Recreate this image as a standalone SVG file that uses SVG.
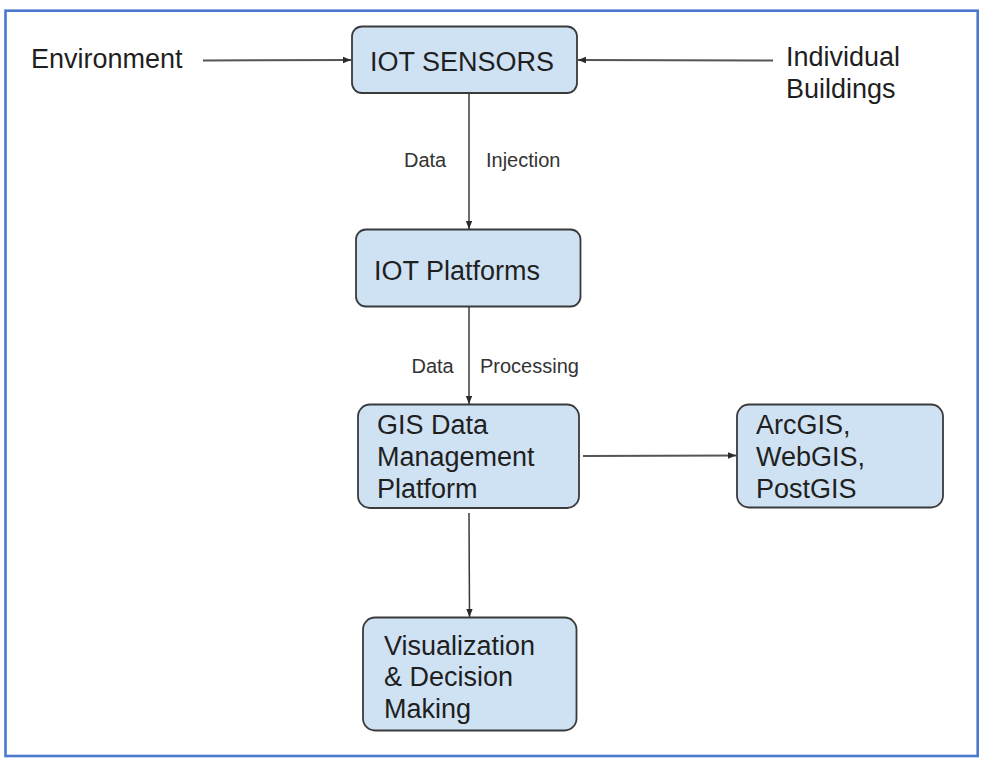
<svg xmlns="http://www.w3.org/2000/svg" width="993" height="760" viewBox="0 0 993 760">
<style>
.node rect{fill:#cfe2f3;stroke:#3a3a3a;stroke-width:1.8}
.t{font-family:"Liberation Sans",Arial,sans-serif;font-size:27px;fill:#1f1f1f}
.lbl{font-family:"Liberation Sans",Arial,sans-serif;font-size:20px;fill:#333}
.c line{stroke:#3a3a3a;stroke-width:1.5;marker-end:url(#ah)}
.c line.h{stroke:#555;stroke-width:2}
</style>
<defs>
<marker id="ah" viewBox="0 0 10 10" refX="10" refY="5" markerWidth="8" markerHeight="8" markerUnits="userSpaceOnUse" orient="auto">
<path d="M0,1 L10,5 L0,9 z" fill="#2a2a2a"/>
</marker>
</defs>
<rect x="5.5" y="10.7" width="972.2" height="745.3" fill="#fff" stroke="#4a78cf" stroke-width="2.6"/>
<g id="environment"><text class="t" x="31" y="68">Environment</text></g>
<g id="buildings"><text class="t" x="786" y="66">Individual</text><text class="t" x="786" y="97.5">Buildings</text></g>
<g id="iot-sensors" class="node"><rect x="352" y="26.5" width="225" height="66.5" rx="10"/><text class="t" x="370" y="71">IOT SENSORS</text></g>
<g id="iot-platforms" class="node"><rect x="356" y="229.5" width="224.5" height="77" rx="10"/><text class="t" x="374" y="279.5">IOT Platforms</text></g>
<g id="gis" class="node"><rect x="358" y="404.5" width="221" height="103.5" rx="12"/><text class="t" x="377" y="433.5">GIS Data</text><text class="t" x="377" y="466">Management</text><text class="t" x="377" y="498">Platform</text></g>
<g id="arcgis" class="node"><rect x="737" y="404.5" width="206" height="103" rx="12"/><text class="t" x="756" y="433.5">ArcGIS,</text><text class="t" x="756" y="466">WebGIS,</text><text class="t" x="756" y="498">PostGIS</text></g>
<g id="visualization" class="node"><rect x="363" y="617.5" width="213.5" height="113" rx="12"/><text class="t" x="384" y="654.5">Visualization</text><text class="t" x="384" y="686">&amp; Decision</text><text class="t" x="384" y="717.5">Making</text></g>
<g id="connectors" class="c">
<line class="h" x1="203" y1="60.5" x2="351" y2="60"/>
<line class="h" x1="773" y1="60.5" x2="578" y2="60"/>
<line x1="469" y1="93" x2="469" y2="229"/>
<line x1="469" y1="306.5" x2="469" y2="404"/>
<line class="h" x1="583" y1="456" x2="736" y2="455.5"/>
<line x1="469" y1="513" x2="469.5" y2="617"/>
</g>
<g id="labels">
<text class="lbl" x="404" y="167">Data</text><text class="lbl" x="486" y="167">Injection</text>
<text class="lbl" x="411.5" y="372.5">Data</text><text class="lbl" x="480" y="372.5">Processing</text>
</g>
</svg>
